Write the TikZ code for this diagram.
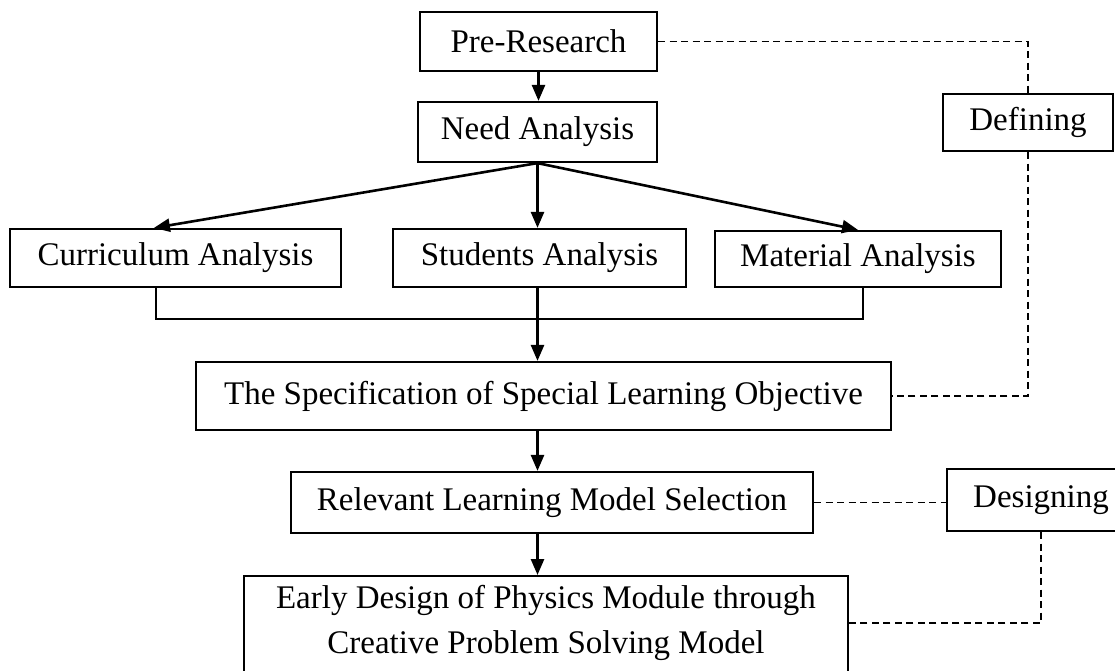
\documentclass[tikz,border=0pt]{standalone}
\usepackage{fontspec}
\setmainfont{Liberation Serif}
\usetikzlibrary{arrows.meta,calc}
\begin{document}
\begin{tikzpicture}[x=1pt,y=-1pt,
  txt/.style={font=\fontsize{33}{45}\selectfont},
  box/.style={draw, line width=2.2pt, inner sep=0pt, txt},
  conn/.style={line width=2.6pt, -{Triangle[length=16pt,width=13pt]}},
  plainline/.style={line width=2.2pt},
  dashline/.style={line width=1.8pt, dash pattern=on 7pt off 4.5pt}]
\useasboundingbox (0,0) rectangle (1115,670);
\clip (0,0) rectangle (1115,670);
\node[box, minimum width=237pt, minimum height=59pt] (pre) at (538.5,41.5) {Pre-Research};
\node[box, minimum width=239pt, minimum height=60pt] (need) at (537.5,132) {Need Analysis};
\node[box, minimum width=170pt, minimum height=57pt] (def) at (1028,122.5) {Defining};
\node[box, minimum width=331pt, minimum height=58pt] (cur) at (175.5,258) {Curriculum Analysis};
\node[box, minimum width=293pt, minimum height=58pt] (stu) at (539.5,258) {Students Analysis};
\node[box, minimum width=286pt, minimum height=56pt] (mat) at (858,259) {Material Analysis};
\node[box, minimum width=695pt, minimum height=68pt] (spec) at (543.5,396) {The Specification of Special Learning Objective};
\node[box, minimum width=522pt, minimum height=61pt] (rel) at (552,502.5) {Relevant Learning Model Selection};
\node[box, minimum width=188pt, minimum height=62pt] (des) at (1041,500) {Designing};
\node[box, minimum width=604pt, minimum height=110pt, anchor=north] (early) at (546,575) {};
\node[txt, align=center, inner sep=0pt] (earlyt) at (546,623) {Early Design of Physics Module through\\Creative Problem Solving Model};
% solid connectors
\draw[conn] (pre.south) -- (pre.south |- need.north);
\draw[conn] (need.south) -- ($(cur.north west)+(145,0)$);
\draw[conn] (need.south) -- (need.south |- stu.north);
\draw[conn] (need.south) -- (mat.north);
\coordinate (cb) at ($(cur.south west)+(147,0)$);
\coordinate (mb) at ($(mat.south)+(5,0)$);
\coordinate (jl) at ($(cb)+(0,31)$);
\draw[plainline] (cb) -- (jl) -- (jl -| mb) -- (mb);
\draw[conn] (need.south |- stu.south) -- (need.south |- spec.north);
\draw[conn] (need.south |- spec.south) -- (need.south |- rel.north);
\draw[conn] (need.south |- rel.south) -- (need.south |- early.north);
% dashed connectors
\draw[dashline] (pre.east) -| (def.north);
\draw[dashline] (def.south) |- (spec.east);
\draw[dashline] (rel.east) -- (rel.east -| des.west);
\draw[dashline] (des.south) |- (earlyt.east -| early.east);
\end{tikzpicture}
\end{document}
